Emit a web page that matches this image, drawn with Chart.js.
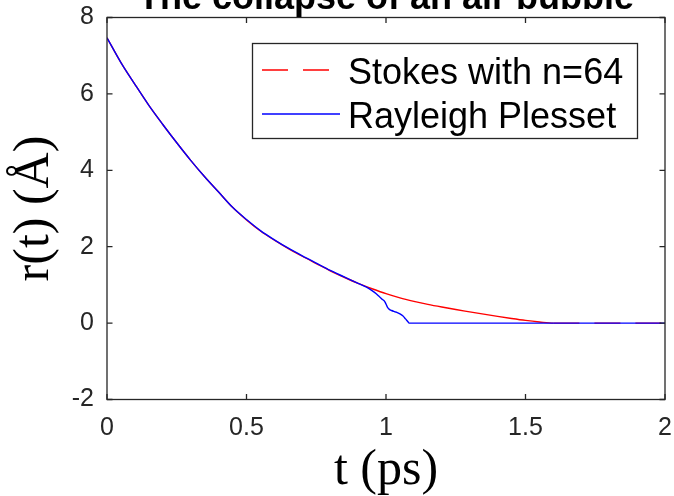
<!DOCTYPE html>
<html>
<head>
<meta charset="utf-8">
<script src="https://cdn.jsdelivr.net/npm/chart.js@4.4.0/dist/chart.umd.min.js"></script>
<style>
  html, body { margin: 0; padding: 0; background: #fff; }
  #wrap { width: 674px; height: 496px; }
</style>
</head>
<body>
<div id="wrap"><canvas id="bubble" width="674" height="496"></canvas></div>
<script>
// values
const stokesT = [0, 0.05, 0.1, 0.15, 0.2, 0.25, 0.3, 0.35, 0.4, 0.45, 0.5, 0.55, 0.6, 0.65, 0.7, 0.75, 0.8, 0.85, 0.9, 0.95,
  1.0, 1.05, 1.1, 1.15, 1.2, 1.25, 1.3, 1.35, 1.4, 1.45, 1.5, 1.55, 1.6, 1.7, 1.8, 1.9, 2.0];
const stokesR = [7.47, 6.82, 6.25, 5.70, 5.20, 4.72, 4.26, 3.83, 3.43, 3.03, 2.70, 2.41, 2.17, 1.95, 1.75, 1.56, 1.37, 1.20, 1.04, 0.90,
  0.77, 0.66, 0.57, 0.49, 0.42, 0.355, 0.295, 0.235, 0.175, 0.12, 0.07, 0.03, 0, 0, 0, 0, 0];

const rpT = [0, 0.05, 0.1, 0.15, 0.2, 0.25, 0.3, 0.35, 0.4, 0.45, 0.5, 0.55, 0.6, 0.65, 0.7, 0.75, 0.8, 0.85, 0.9, 0.93,
  0.95, 0.965, 0.975, 0.985, 0.995, 1.0, 1.005, 1.012, 1.02, 1.035, 1.05, 1.06, 1.07, 1.078, 1.083, 1.5, 2.0];
const rpR = [7.47, 6.82, 6.25, 5.70, 5.20, 4.72, 4.26, 3.83, 3.43, 3.03, 2.71, 2.42, 2.18, 1.96, 1.76, 1.57, 1.38, 1.21, 1.04, 0.94,
  0.85, 0.77, 0.70, 0.63, 0.57, 0.50, 0.42, 0.36, 0.33, 0.29, 0.24, 0.19, 0.11, 0.04, 0, 0, 0];

const xTicks = [0, 0.5, 1, 1.5, 2];
const yTicks = [-2, 0, 2, 4, 6, 8];
const seriesNames = ["Stokes with n=64", "Rayleigh Plesset"];
const chartTitle = "The collapse of an air bubble";

const axisColor = "#262626";

function toPoints(ts, rs) {
  return ts.map((t, i) => ({ x: t, y: rs[i] }));
}

// box + inward ticks like the matlab axes
const framePlugin = {
  id: "frame",
  afterDatasetsDraw(chart) {
    const { ctx, chartArea: a, scales } = chart;
    ctx.save();
    ctx.strokeStyle = axisColor;
    ctx.lineWidth = 1.3;
    ctx.strokeRect(a.left, a.top, a.right - a.left, a.bottom - a.top);
    ctx.beginPath();
    xTicks.forEach(v => {
      const px = scales.x.getPixelForValue(v);
      ctx.moveTo(px, a.bottom); ctx.lineTo(px, a.bottom - 5.5);
      ctx.moveTo(px, a.top); ctx.lineTo(px, a.top + 5.5);
    });
    yTicks.forEach(v => {
      const py = scales.y.getPixelForValue(v);
      ctx.moveTo(a.left, py); ctx.lineTo(a.left + 5.5, py);
      ctx.moveTo(a.right, py); ctx.lineTo(a.right - 5.5, py);
    });
    ctx.stroke();
    ctx.restore();
  }
};

// boxed legend, top right inside the axes
const boxLegend = {
  id: "boxLegend",
  afterDraw(chart) {
    const ctx = chart.ctx;
    const bx = 252.5, by = 43.5, bw = 385, bh = 95;
    ctx.save();
    ctx.fillStyle = "#fff";
    ctx.fillRect(bx, by, bw, bh);
    ctx.strokeStyle = axisColor;
    ctx.lineWidth = 1.3;
    ctx.strokeRect(bx, by, bw, bh);
    const rows = [70, 114];
    chart.data.datasets.forEach((ds, i) => {
      ctx.beginPath();
      ctx.strokeStyle = ds.borderColor;
      ctx.lineWidth = 1.4;
      ctx.setLineDash(ds.borderDash || []);
      ctx.moveTo(262, rows[i]);
      ctx.lineTo(340, rows[i]);
      ctx.stroke();
      ctx.setLineDash([]);
      ctx.fillStyle = "#000";
      ctx.font = "36px 'Liberation Sans', Arial, sans-serif";
      ctx.textAlign = "left";
      ctx.textBaseline = "alphabetic";
      ctx.fillText(seriesNames[i], 348, rows[i] + 14);
    });
    ctx.restore();
  }
};

// title sits partly above the canvas edge, as in the reference
const cutTitle = {
  id: "cutTitle",
  afterDraw(chart) {
    const ctx = chart.ctx;
    ctx.save();
    ctx.fillStyle = "#000";
    ctx.font = "bold 36px 'Liberation Sans', Arial, sans-serif";
    ctx.textAlign = "center";
    ctx.textBaseline = "alphabetic";
    ctx.fillText(chartTitle, 386, 9);
    ctx.restore();
  }
};

const tickFont = { family: "'Liberation Sans', Arial, sans-serif", size: 25 };
const labelFont = { family: "'Liberation Serif', 'Times New Roman', serif", size: 50, lineHeight: 1 };

new Chart(document.getElementById("bubble"), {
  type: "line",
  data: {
    datasets: [
      {
        label: seriesNames[0],
        data: toPoints(stokesT, stokesR),
        borderColor: "#ff0000",
        borderWidth: 1.4,
        borderDash: [26, 15],
        segment: {
          borderDash: c => (c.p0.parsed.y > 0.001 || c.p1.parsed.y > 0.001) ? [] : undefined
        },
        pointRadius: 0,
        cubicInterpolationMode: "monotone",
        order: 2
      },
      {
        label: seriesNames[1],
        data: toPoints(rpT, rpR),
        borderColor: "#0000ff",
        borderWidth: 1.4,
        pointRadius: 0,
        cubicInterpolationMode: "monotone",
        order: 1
      }
    ]
  },
  options: {
    responsive: false,
    animation: false,
    layout: { padding: { top: 17.5, right: 9, left: 0, bottom: 0 } },
    plugins: {
      legend: { display: false },
      title: { display: false },
      tooltip: { enabled: false }
    },
    scales: {
      x: {
        type: "linear",
        min: 0,
        max: 2,
        afterBuildTicks: s => { s.ticks = xTicks.map(v => ({ value: v })); },
        afterFit: s => { s.height = 96.5; s.paddingLeft = 0; s.paddingRight = 0; },
        grid: { display: false, drawTicks: false },
        border: { display: false },
        ticks: { color: axisColor, font: tickFont, padding: 14, maxRotation: 0, callback: v => String(v) },
        title: { display: true, text: "t (ps)", color: "#000", font: labelFont, padding: { top: 0, bottom: 0 } }
      },
      y: {
        type: "linear",
        min: -2,
        max: 8,
        afterBuildTicks: s => { s.ticks = yTicks.map(v => ({ value: v })); },
        afterFit: s => { s.width = 107; s.paddingTop = 0; s.paddingBottom = 0; },
        grid: { display: false, drawTicks: false },
        border: { display: false },
        ticks: { color: axisColor, font: tickFont, padding: 13, callback: v => String(v) },
        title: { display: true, text: "r(t) (Å)", color: "#000", font: labelFont, padding: { top: 10, bottom: 0 } }
      }
    }
  },
  plugins: [framePlugin, boxLegend, cutTitle]
});
</script>
</body>
</html>
